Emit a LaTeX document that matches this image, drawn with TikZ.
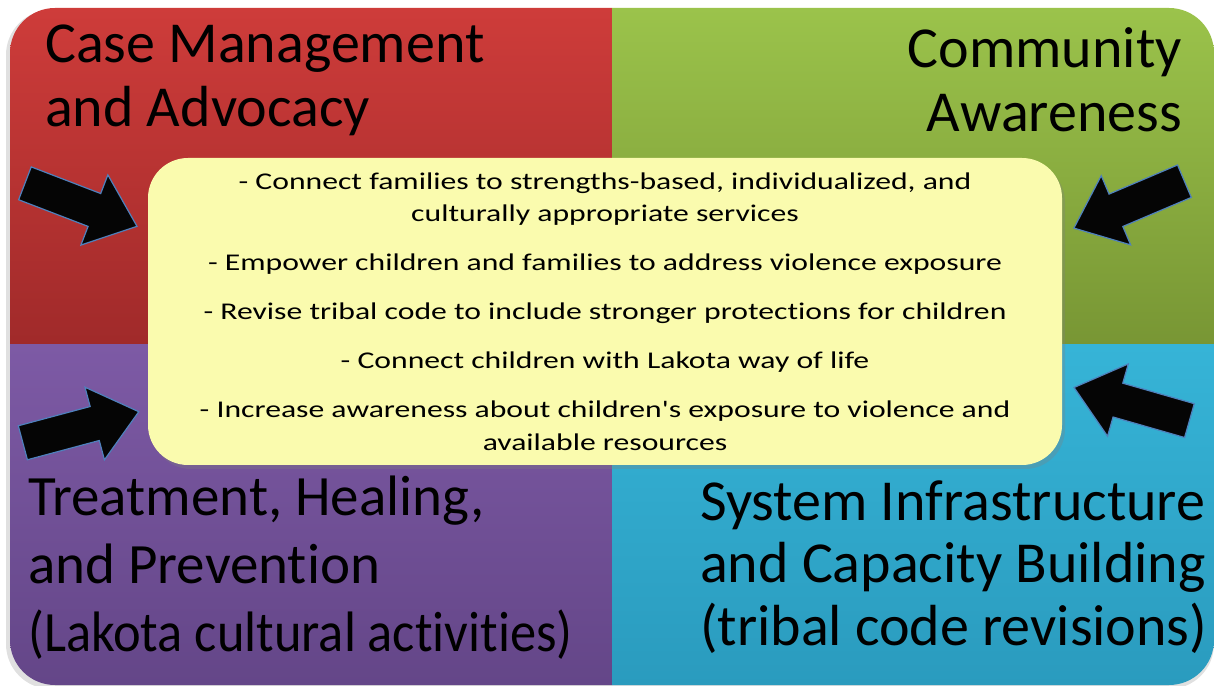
\documentclass[tikz,border=0pt]{standalone}
\usepackage{fontspec}
\setmainfont{Carlito}[Ligatures=NoCommon]
\newfontfamily\goalfont{Carlito}[FakeStretch=1.32, Ligatures=NoCommon]
\newfontfamily\narrowfont{Carlito}[FakeStretch=0.92, Ligatures=NoCommon]
\usetikzlibrary{shapes.arrows,shadows}

%% quadrant colours (top and bottom of each gradient)
\definecolor{caseTop}{HTML}{CE3C3A}
\definecolor{caseBot}{HTML}{A02A2A}
\definecolor{commTop}{HTML}{9BC34B}
\definecolor{commBot}{HTML}{789634}
\definecolor{treatTop}{HTML}{7D5AA5}
\definecolor{treatBot}{HTML}{644688}
\definecolor{sysTop}{HTML}{36B4D7}
\definecolor{sysBot}{HTML}{2A9BBE}
\definecolor{goalFill}{HTML}{FAFBAE}
\definecolor{arrowFill}{HTML}{050505}
\definecolor{arrowLine}{HTML}{4F81BD}

\tikzset{
	title/.style={font=\fontsize{58}{64}\selectfont, inner sep=0pt, text=black},
	goalbox/.style={fill=goalFill, rounded corners=40pt, minimum width=914pt,
		minimum height=307pt, align=center, inner sep=0pt,
		font=\goalfont\fontsize{24}{32.5}\selectfont,
		drop shadow={shadow xshift=3pt, shadow yshift=-4pt, opacity=0.3}},
	pusharrow/.style={single arrow, fill=arrowFill, draw=arrowLine, line width=1.2pt,
		inner xsep=0pt, inner ysep=17pt, minimum height=120pt,
		single arrow head extend=20pt, single arrow tip angle=79},
}

\begin{document}
\begin{tikzpicture}[x=1pt, y=1pt]
	\useasboundingbox (0,0) rectangle (1214,685);

	%% Outer shadow
	\fill [black!12, rounded corners=45pt] (6,-4) rectangle (1214,675);

	%% Four quadrants
	\begin{scope}
		\clip [rounded corners=45pt] (10,0) rectangle (1214,677);
		\shade [top color=caseTop, bottom color=caseBot] (10,340) rectangle (612,677);
		\shade [top color=commTop, bottom color=commBot] (612,340) rectangle (1214,677);
		\shade [top color=treatTop, bottom color=treatBot] (10,0) rectangle (612,340);
		\shade [top color=sysTop, bottom color=sysBot] (612,0) rectangle (1214,340);
	\end{scope}

	%% Titles (base anchor = last line)
	\node [title, anchor=base west, align=left] (caseTitle) at (45,558)
		{Case Management\\and Advocacy};
	\node [title, anchor=base east, align=right] (commTitle) at (1182,553)
		{Community\\Awareness};
	\node [title, anchor=base west, align=left, font=\fontsize{57}{68}\selectfont] (treatTitle) at (28,34)
		{Treatment, Healing,\\and Prevention\\{\narrowfont (Lakota cultural activities)}};
	\node [title, anchor=base west, align=left, font=\fontsize{58}{62.5}\selectfont] (sysTitle) at (700,40)
		{System Infrastructure\\and Capacity Building\\(tribal code revisions)};

	%% Arrows pointing at the centre
	\node [pusharrow, rotate=-21] (caseArrow) at (71,484) {};
	\node [pusharrow, rotate=203] (commArrow) at (1139,484.5) {};
	\node [pusharrow, rotate=15] (treatArrow) at (70.5,255) {};
	\node [pusharrow, rotate=164] (sysArrow) at (1142,278) {};

	%% Centre box
	\node [goalbox] (goals) at (605,373.5) {%
		- Connect families to strengths-based, individualized, and\\
		culturally appropriate services\\[16.5pt]
		- Empower children and families to address violence exposure\\[16.5pt]
		- Revise tribal code to include stronger protections for children\\[16.5pt]
		- Connect children with Lakota way of life\\[16.5pt]
		- Increase awareness about children's exposure to violence and\\
		available resources};
\end{tikzpicture}
\end{document}
